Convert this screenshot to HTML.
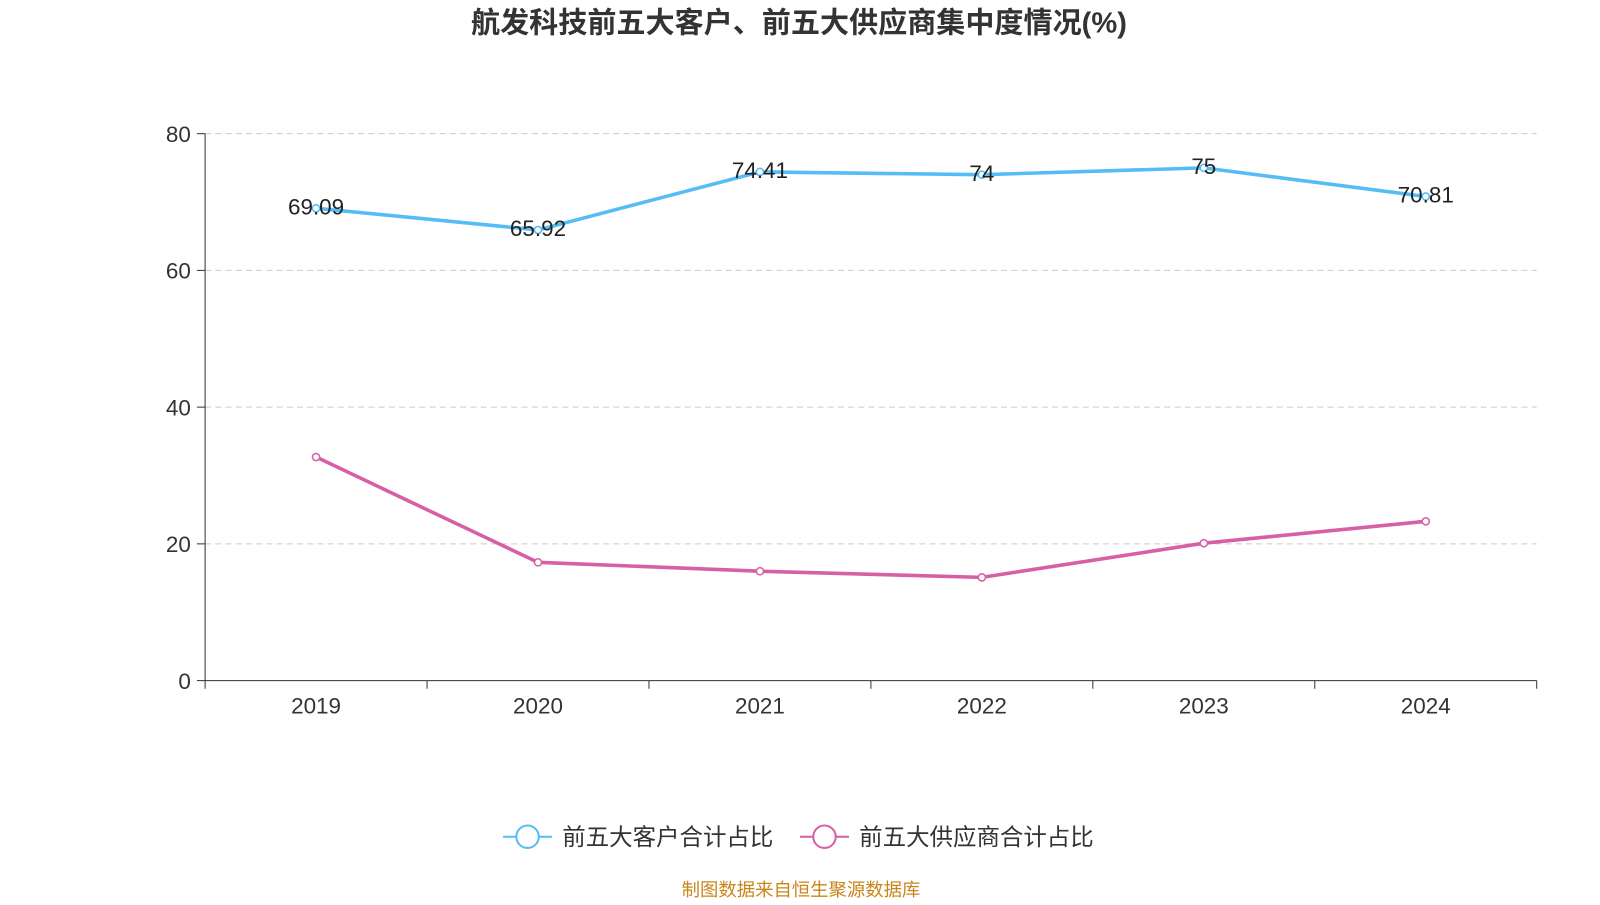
<!DOCTYPE html>
<html><head><meta charset="utf-8"><style>
body{margin:0;background:#fff;width:1600px;height:900px;overflow:hidden;font-family:"Liberation Sans","Noto Sans CJK SC",sans-serif}
</style></head><body>
<svg width="1600" height="900" font-family="Liberation Sans, Noto Sans CJK SC, sans-serif"><g id="c" transform="scale(1.0204)"></g></svg>
<script>
const categories=["2019","2020","2021","2022","2023","2024"];
const customerValues=[69.09,65.92,74.41,74,75,70.81];
const customerLabels=["69.09","65.92","74.41","74","75","70.81"];
const supplierValues=[32.7,17.3,16.0,15.1,20.1,23.3];
const yTicks=[0,20,40,60,80];
const svg=document.getElementById('c');
const NS='http://www.w3.org/2000/svg';
const L=201,R=1506,T=131,B=667,YMAX=80;
const bw=(R-L)/categories.length;
const x=i=>L+bw*(i+0.5);
const y=v=>B-(v/YMAX)*(B-T);
function el(t,a,p){const e=document.createElementNS(NS,t);for(const k in a)e.setAttribute(k,a[k]);(p||svg).appendChild(e);return e;}
let t=el('text',{x:783,y:32,'text-anchor':'middle','font-size':28.5,'font-weight':'bold',fill:'#333'});t.textContent='航发科技前五大客户、前五大供应商集中度情况(%)';


yTicks.forEach(v=>{
 if(v>0){const g=el('line',{x1:L,x2:R,y1:y(v),y2:y(v),stroke:'#ccc','stroke-dasharray':'6,4'});
 
 }
 el('line',{x1:L-8,x2:L,y1:y(v),y2:y(v),stroke:'#333'});
 const tx=el('text',{x:L-14,y:y(v)+8,'text-anchor':'end','font-size':22,fill:'#333'});tx.textContent=v;
 
 
});
el('line',{x1:L,x2:L,y1:T,y2:B,stroke:'#333'});
el('line',{x1:L,x2:R,y1:B,y2:B,stroke:'#333'});
for(let i=0;i<=categories.length;i++)el('line',{x1:L+bw*i,x2:L+bw*i,y1:B,y2:B+8,stroke:'#333'});
categories.forEach((c,i)=>{const tx=el('text',{x:x(i),y:699,'text-anchor':'middle','font-size':22,fill:'#333'});tx.textContent=c;
 
 });
function series(vals,color,name,labels){
 const p=el('polyline',{points:vals.map((v,i)=>x(i)+','+y(v)).join(' '),fill:'none',stroke:color,'stroke-width':3.5});
 
 
 vals.forEach((v,i)=>{const c=el('circle',{cx:x(i),cy:y(v),r:3.5,fill:'#fff',stroke:color,'stroke-width':1.5});
  
  
  if(labels){const tx=el('text',{x:x(i),y:y(v)+6,'text-anchor':'middle','font-size':22,fill:'#222'});tx.textContent=labels[i];
   
   }});
}
series(supplierValues,'#d65fa5','supplier');
series(customerValues,'#55bdf5','customer',customerLabels);
function legend(x0,color,text,name){
 const g=el('g',{});
 
 
 el('line',{x1:x0,x2:x0+48,y1:820,y2:820,stroke:color,'stroke-width':2},g);
 el('circle',{cx:x0+24,cy:820,r:11,fill:'#fff',stroke:color,'stroke-width':2},g);
 const tx=el('text',{x:x0+58,y:828,'font-size':23,fill:'#333'},g);tx.textContent=text;
}
legend(493,'#55bdf5','前五大客户合计占比','legend-customer');
legend(784,'#d65fa5','前五大供应商合计占比','legend-supplier');
const s=el('text',{x:785,y:878,'text-anchor':'middle','font-size':18,fill:'#c8861a'});s.textContent='制图数据来自恒生聚源数据库';


</script>
</body></html>
